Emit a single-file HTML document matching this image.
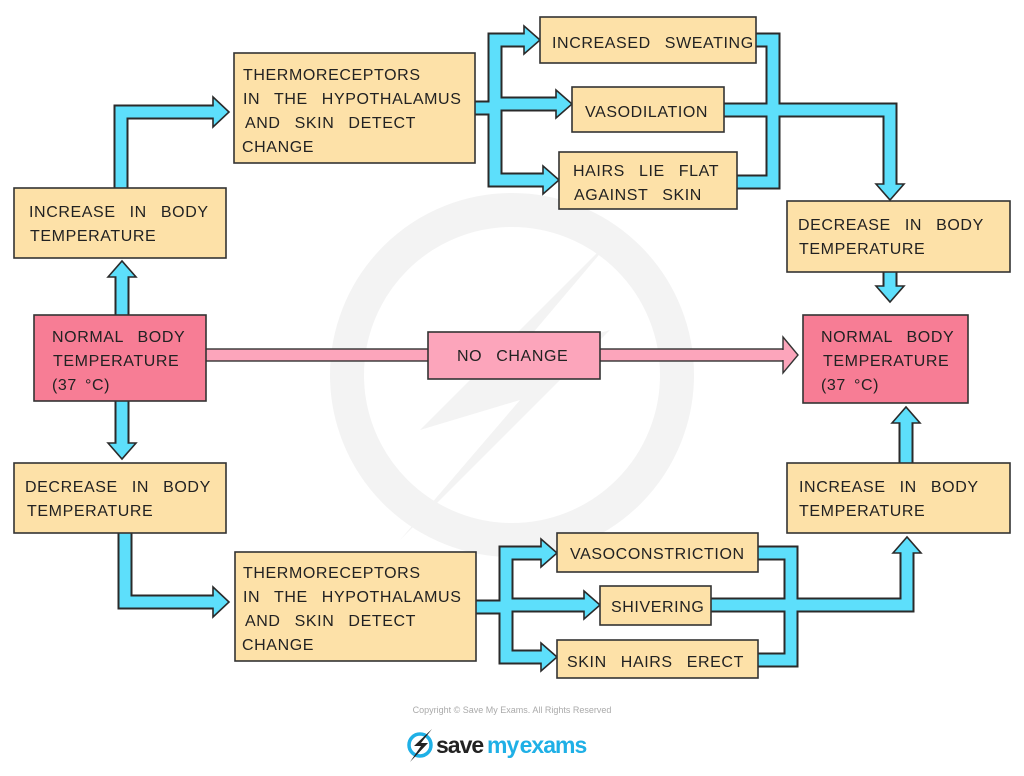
<!DOCTYPE html>
<html><head><meta charset="utf-8"><style>
html,body{margin:0;padding:0;background:#fff;}
svg{display:block;}
text{font-family:"Liberation Sans","DejaVu Sans",sans-serif;font-size:16px;fill:#222;letter-spacing:0.6px;word-spacing:9px;}
.b{fill:#fde1a8;stroke:#333;stroke-width:1.6;}
.p{fill:#f77d95;stroke:#333;stroke-width:1.6;}
.lp{fill:#fca5bb;stroke:#333;stroke-width:1.6;}
.od{fill:none;stroke:#2a2a2a;stroke-width:15;stroke-linejoin:miter;}
.oc{fill:none;stroke:#5ddffb;stroke-width:11;stroke-linejoin:miter;}
.ah{fill:#5ddffb;stroke:#2a2a2a;stroke-width:1.6;stroke-linejoin:miter;}
</style></head><body>
<svg width="1024" height="776" viewBox="0 0 1024 776">
<circle cx="512" cy="375" r="165" fill="none" stroke="#f3f3f3" stroke-width="34"/>
<polygon points="620,230 420,430 520,400 400,540 610,330 510,360" fill="#f3f3f3"/>

<rect x="204" y="349" width="226" height="12" fill="#fca5bb" stroke="#333" stroke-width="1.4"/>
<rect x="598" y="349" width="188" height="12" fill="#fca5bb" stroke="#333" stroke-width="1.4"/>
<polygon points="783,337 798,355 783,373" fill="#fca5bb" stroke="#333" stroke-width="1.4"/>
<line x1="779" y1="355" x2="785" y2="355" stroke="#fca5bb" stroke-width="10"/>

<g class="od">
<polyline points="121,190 121,112 216,112"/>
<line x1="122" y1="317" x2="122" y2="275"/>
<line x1="122" y1="398" x2="122" y2="445"/>
<polyline points="125,531 125,602 216,602"/>
<line x1="474" y1="108" x2="495" y2="108"/>
<polyline points="528,40 495,40 495,180 545,180"/>
<line x1="495" y1="104" x2="560" y2="104"/>
<polyline points="755,40 773,40 773,182 736,182"/>
<polyline points="723,110 890,110 890,184"/>
<line x1="890" y1="270" x2="890" y2="288"/>
<polyline points="475,607 506,607"/>
<polyline points="543,553 506,553 506,657 543,657"/>
<line x1="506" y1="605" x2="586" y2="605"/>
<polyline points="757,553 791,553 791,660 757,660"/>
<polyline points="710,605 907,605 907,552"/>
<line x1="906" y1="465" x2="906" y2="422"/>
</g>
<g class="oc">
<polyline points="121,190 121,112 216,112"/>
<line x1="122" y1="317" x2="122" y2="275"/>
<line x1="122" y1="398" x2="122" y2="445"/>
<polyline points="125,531 125,602 216,602"/>
<line x1="474" y1="108" x2="495" y2="108"/>
<polyline points="528,40 495,40 495,180 545,180"/>
<line x1="495" y1="104" x2="560" y2="104"/>
<polyline points="755,40 773,40 773,182 736,182"/>
<polyline points="723,110 890,110 890,184"/>
<line x1="890" y1="270" x2="890" y2="288"/>
<polyline points="475,607 506,607"/>
<polyline points="543,553 506,553 506,657 543,657"/>
<line x1="506" y1="605" x2="586" y2="605"/>
<polyline points="757,553 791,553 791,660 757,660"/>
<polyline points="710,605 907,605 907,552"/>
<line x1="906" y1="465" x2="906" y2="422"/>
</g>
<g class="ah">
<polygon points="213,97 229,112 213,127"/>
<polygon points="108,277 122,261 136,277"/>
<polygon points="108,443 122,459 136,443"/>
<polygon points="213,587 229,602 213,617"/>
<polygon points="524,26 540,40 524,54"/>
<polygon points="556,90 572,104 556,118"/>
<polygon points="543,166 559,180 543,194"/>
<polygon points="876,184 890,200 904,184"/>
<polygon points="876,286 890,302 904,286"/>
<polygon points="541,539 557,553 541,567"/>
<polygon points="584,591 600,605 584,619"/>
<polygon points="541,643 557,657 541,671"/>
<polygon points="893,553 907,537 921,553"/>
<polygon points="892,423 906,407 920,423"/>
</g>
<g stroke="#5ddffb" stroke-width="11">
<line x1="203" y1="112" x2="215" y2="112"/>
<line x1="122" y1="288" x2="122" y2="276"/>
<line x1="122" y1="432" x2="122" y2="444"/>
<line x1="203" y1="602" x2="215" y2="602"/>
<line x1="514" y1="40" x2="526" y2="40"/>
<line x1="546" y1="104" x2="558" y2="104"/>
<line x1="533" y1="180" x2="545" y2="180"/>
<line x1="890" y1="174" x2="890" y2="186"/>
<line x1="890" y1="276" x2="890" y2="288"/>
<line x1="531" y1="553" x2="543" y2="553"/>
<line x1="574" y1="605" x2="586" y2="605"/>
<line x1="531" y1="657" x2="543" y2="657"/>
<line x1="907" y1="563" x2="907" y2="551"/>
<line x1="906" y1="433" x2="906" y2="421"/>
</g>

<rect class="b" x="234" y="53" width="241" height="110"/>
<text x="243" y="80">THERMORECEPTORS</text>
<text x="243" y="104">IN THE  HYPOTHALAMUS</text>
<text x="245" y="128">AND SKIN DETECT</text>
<text x="242" y="152">CHANGE</text>

<rect class="b" x="14" y="188" width="212" height="70"/>
<text x="29" y="217">INCREASE IN BODY</text>
<text x="30" y="241">TEMPERATURE</text>

<rect class="p" x="34" y="315" width="172" height="86"/>
<text x="52" y="342">NORMAL BODY</text>
<text x="53" y="366">TEMPERATURE</text>
<text x="52" y="390" style="word-spacing:3px">(37 °C)</text>

<rect class="lp" x="428" y="332" width="172" height="47"/>
<text x="457" y="361">NO CHANGE</text>

<rect class="b" x="14" y="463" width="212" height="70"/>
<text x="25" y="492">DECREASE IN BODY</text>
<text x="27" y="516">TEMPERATURE</text>

<rect class="b" x="235" y="552" width="241" height="109"/>
<text x="243" y="578">THERMORECEPTORS</text>
<text x="243" y="602">IN THE  HYPOTHALAMUS</text>
<text x="245" y="626">AND SKIN DETECT</text>
<text x="242" y="650">CHANGE</text>

<rect class="b" x="540" y="17" width="216" height="46"/>
<text x="552" y="48">INCREASED SWEATING</text>
<rect class="b" x="572" y="87" width="152" height="45"/>
<text x="585" y="117">VASODILATION</text>
<rect class="b" x="559" y="152" width="178" height="57"/>
<text x="573" y="176">HAIRS LIE FLAT</text>
<text x="574" y="200">AGAINST SKIN</text>

<rect class="b" x="787" y="201" width="223" height="71"/>
<text x="798" y="230">DECREASE IN BODY</text>
<text x="799" y="254">TEMPERATURE</text>

<rect class="p" x="803" y="315" width="165" height="88"/>
<text x="821" y="342">NORMAL BODY</text>
<text x="823" y="366">TEMPERATURE</text>
<text x="821" y="390" style="word-spacing:3px">(37 °C)</text>

<rect class="b" x="787" y="463" width="223" height="70"/>
<text x="799" y="492">INCREASE IN BODY</text>
<text x="799" y="516">TEMPERATURE</text>

<rect class="b" x="557" y="533" width="201" height="39"/>
<text x="570" y="559">VASOCONSTRICTION</text>
<rect class="b" x="600" y="586" width="111" height="39"/>
<text x="611" y="612">SHIVERING</text>
<rect class="b" x="557" y="640" width="201" height="38"/>
<text x="567" y="667">SKIN HAIRS ERECT</text>

<text x="512" y="713" text-anchor="middle" style="font-size:9px;fill:#aaa;letter-spacing:0;word-spacing:0">Copyright © Save My Exams. All Rights Reserved</text>
<circle cx="420" cy="745" r="11" fill="none" stroke="#1fb0e6" stroke-width="3.5"/>
<polygon points="432,729 414,746 421,746 410,762 428,743 421,743" fill="#222"/>
<text x="436" y="753" style="font-size:23px;font-weight:bold;fill:#222;letter-spacing:-1px;word-spacing:0">save</text>
<text x="487" y="753" style="font-size:23px;font-weight:bold;fill:#1fb0e6;letter-spacing:-1px;word-spacing:-4px">my exams</text>
</svg>
</body></html>
